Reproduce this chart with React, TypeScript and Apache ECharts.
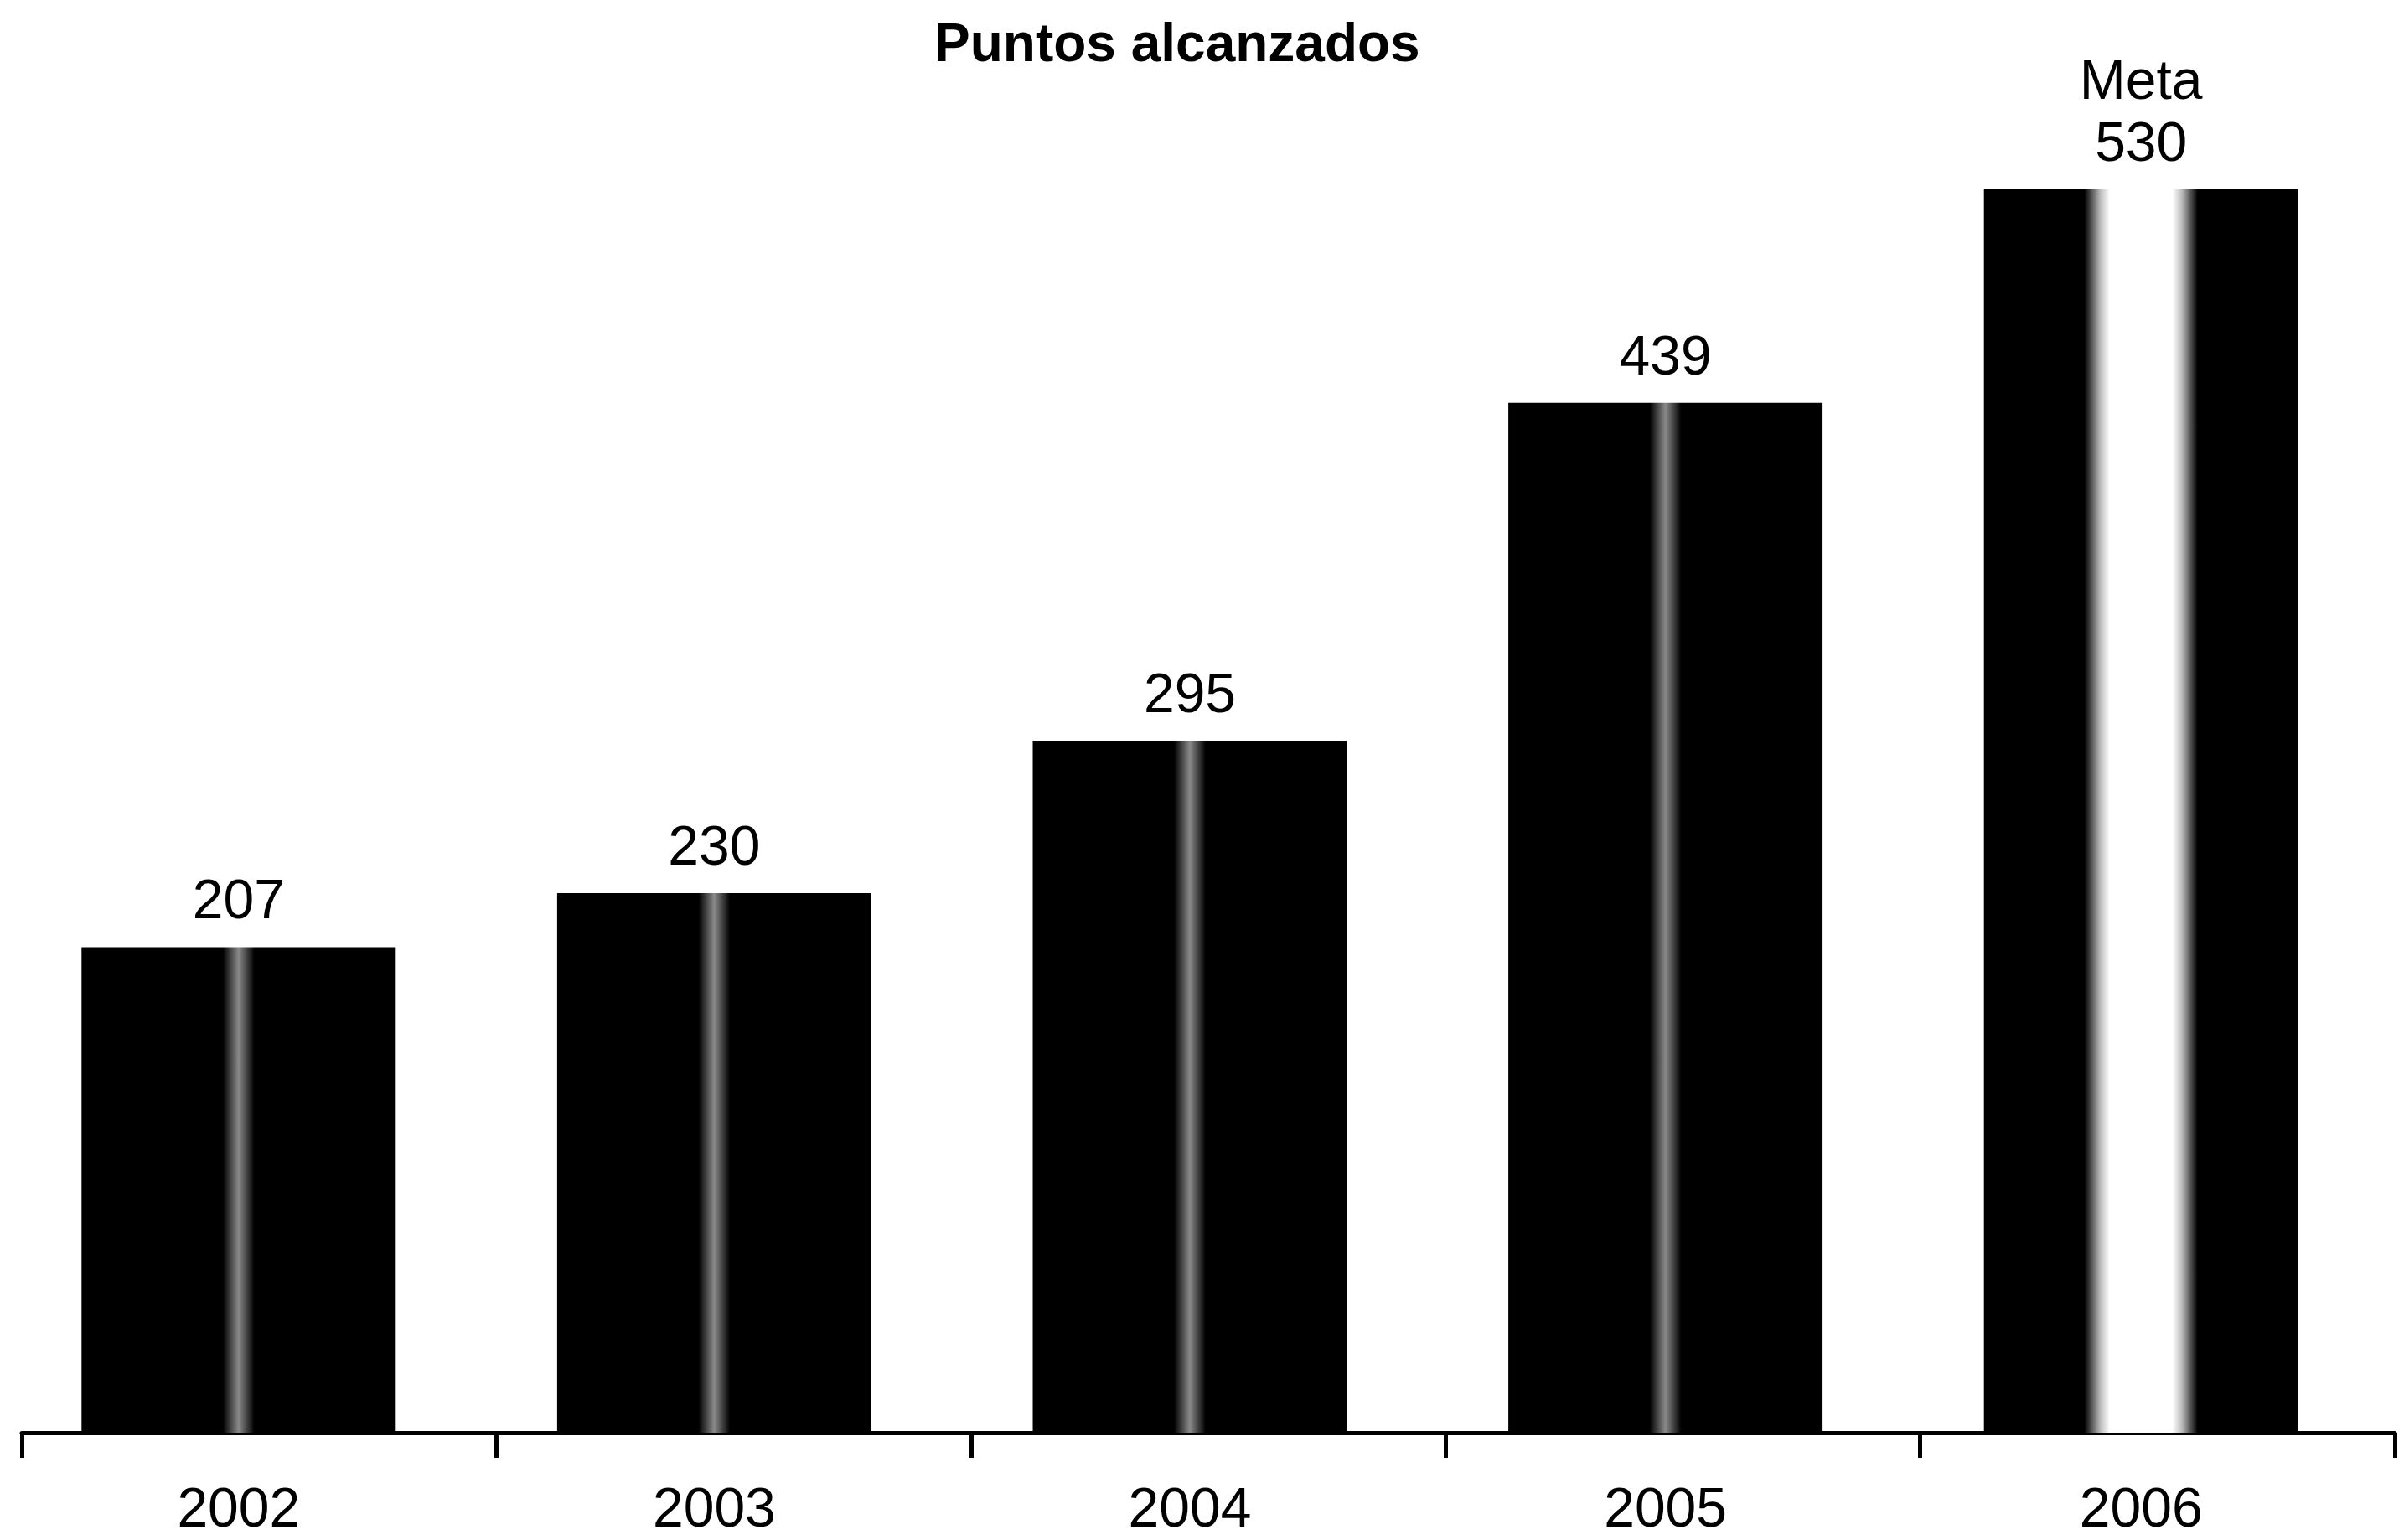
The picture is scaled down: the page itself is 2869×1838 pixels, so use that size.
import React, { useEffect, useRef } from "react";
import * as echarts from "echarts";

const titleText = "Puntos alcanzados";
const years = ["2002", "2003", "2004", "2005", "2006"];
const points = [207, 230, 295, 439, 530];
const valueLabels = ["207", "230", "295", "439", "Meta\n530"];

const FONT = "'Liberation Sans', 'Noto Sans', sans-serif";

const stripe = {
  type: "linear", x: 0, y: 0, x2: 1, y2: 0,
  colorStops: [
    { offset: 0, color: "#000" },
    { offset: 0.45, color: "#000" },
    { offset: 0.5, color: "#8a8a8a" },
    { offset: 0.55, color: "#000" },
    { offset: 1, color: "#000" },
  ],
};
const wideStripe = {
  type: "linear", x: 0, y: 0, x2: 1, y2: 0,
  colorStops: [
    { offset: 0, color: "#000" },
    { offset: 0.32, color: "#000" },
    { offset: 0.37, color: "#bbb" },
    { offset: 0.4, color: "#fff" },
    { offset: 0.6, color: "#fff" },
    { offset: 0.63, color: "#bbb" },
    { offset: 0.68, color: "#000" },
    { offset: 1, color: "#000" },
  ],
};

export default function App() {
  const ref = useRef<HTMLDivElement>(null);
  useEffect(() => {
    if (!ref.current) return;
    const chart = echarts.init(ref.current, null, { renderer: "svg" });
    chart.setOption({
      animation: false,
      backgroundColor: "#fff",
      title: {
        text: titleText,
        left: 1110,
        top: 14,
        textStyle: { fontFamily: FONT, fontSize: 64, fontWeight: "bold", color: "#000" },
      },
      grid: [
        { left: 1, right: 30, top: 30, bottom: 128 },
        { left: 26, right: 11, top: 30, bottom: 128 },
      ],
      xAxis: [
        {
          type: "category",
          gridIndex: 0,
          data: years,
          axisLine: { show: false },
          axisTick: { show: false },
          axisLabel: { margin: 56, fontFamily: FONT, fontSize: 66, color: "#000" },
        },
        {
          type: "category",
          gridIndex: 1,
          data: years,
          axisLine: { show: true, lineStyle: { color: "#000", width: 5 } },
          axisTick: { show: true, length: 30, lineStyle: { color: "#000", width: 5 } },
          axisLabel: { show: false },
        },
      ],
      yAxis: [
        { type: "value", gridIndex: 0, min: 0, max: 600, show: false },
        { type: "value", gridIndex: 1, min: 0, max: 600, show: false },
      ],
      series: [
        {
          type: "bar",
          xAxisIndex: 0,
          yAxisIndex: 0,
          barWidth: 375,
          data: points.map((v, i) => ({
            value: v,
            itemStyle: { color: i === points.length - 1 ? wideStripe : stripe },
          })),
          label: {
            show: true,
            position: "top",
            distance: 20,
            fontFamily: FONT,
            fontSize: 66,
            lineHeight: 74,
            color: "#000",
            formatter: (p: any) => valueLabels[p.dataIndex],
          },
        },
        { type: "bar", xAxisIndex: 1, yAxisIndex: 1, data: [] },
      ],
    });
    return () => chart.dispose();
  }, []);
  return (
    <div
      ref={ref}
      style={{ position: "absolute", left: 0, top: 0, width: 2869, height: 1838 }}
    />
  );
}
